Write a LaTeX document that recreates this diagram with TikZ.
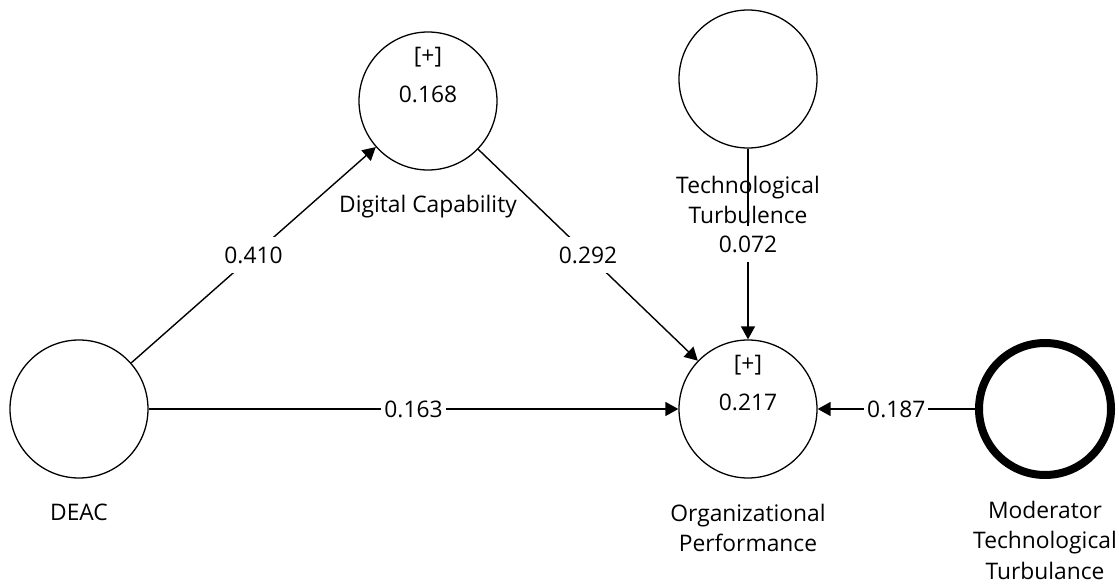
\documentclass[tikz,border=0pt]{standalone}
\usepackage{fontspec}
\setmainfont{Open Sans}
\usetikzlibrary{arrows.meta}
\tikzset{
  lv/.style={circle, draw=black, line width=1.3pt, minimum size=138pt, inner sep=0pt, fill=white},
  lvthick/.style={circle, draw=black, line width=8pt, minimum size=132pt, inner sep=0pt, fill=white},
  txt/.style={font=\fontsize{22.8}{30.5}\selectfont, text=black, align=center, inner sep=0pt},
  path/.style={draw=black, line width=1.4pt, -{Triangle[length=13pt,width=14pt]}},
  coef/.style={txt, fill=white, inner xsep=3pt, minimum height=36pt}
}
\begin{document}
\begin{tikzpicture}[x=1pt,y=-1pt]
  \useasboundingbox (0,0) rectangle (1119,585);
  % constructs
  \node[lv] (deac) at (79,409) {};
  \node[lv] (dc) at (428,101) {};
  \node[lv] (tt) at (748,79) {};
  \node[lv] (op) at (748,409) {};
  \node[lvthick] (mod) at (1045,409) {};
  % values inside the constructs
  \node[txt] (dcplus) at (428,57) {[+]};
  \node[txt] (dcr) at (428,94) {0.168};
  \node[txt] (opplus) at (748,365) {[+]};
  \node[txt] (opr) at (748,402) {0.217};
  % construct names
  \node[txt] (deaclab) at (79,512) {DEAC};
  \node[txt] (dclab) at (428,207) {Digital Capability};
  \node[txt] (ttlab) at (748,200) {Technological\\Turbulence};
  \node[txt] (oplab) at (748,528) {Organizational\\Performance};
  \node[txt] (modlab) at (1045,540) {Moderator\\Technological\\Turbulance};
  % structural paths with coefficients
  \draw[path] (deac) -- node[coef] (c1) {0.410} (dc);
  \draw[path] (dc) -- node[coef] (c2) {0.292} (op);
  \draw[path] (deac) -- node[coef] (c3) {0.163} (op);
  \draw[path] (tt) -- node[coef] (c4) {0.072} (op);
  \draw[path] (mod) -- node[coef] (c5) {0.187} (op);
\end{tikzpicture}
\end{document}
